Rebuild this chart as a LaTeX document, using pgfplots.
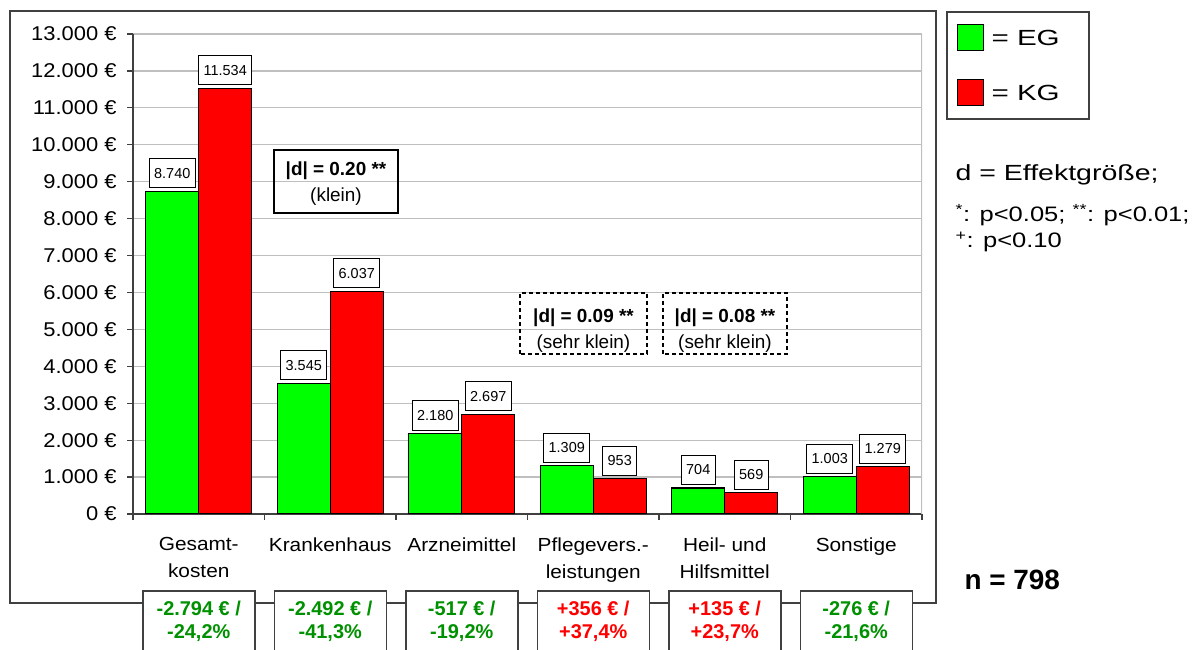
\documentclass[border=0pt]{standalone}
\usepackage{fontspec}
\setmainfont{Liberation Sans}
\usepackage{graphicx}
\usepackage{pgfplots}
\pgfplotsset{compat=1.18}
\definecolor{eg}{RGB}{0,255,0}
\definecolor{kg}{RGB}{255,0,0}
\definecolor{dgreen}{RGB}{0,145,0}
\definecolor{axgray}{RGB}{64,64,64}
\newcommand{\fs}[1]{\fontsize{#1}{#1}\selectfont}
\newcommand{\sx}[1]{\scalebox{1.1}[1]{#1}}
% box under a category: center x, line 1, line 2, colour
\newcommand{\bbox}[4]{%
  \draw[axgray, fill=white, line width=1.5bp] (#1-56,-20) rectangle (#1+56,59);
  \node[text=#4, font=\bfseries\fs{20}] at (#1,42) {#2};
  \node[text=#4, font=\bfseries\fs{20}] at (#1,17) {#3};}

\begin{document}
\begin{tikzpicture}[x=1bp,y=1bp]
\clip (0,0) rectangle (1195,650);
\draw[axgray, line width=1.5bp] (10,47) rectangle (936,639);

\begin{axis}[
    at={(133bp,136bp)}, anchor=south west,
    scale only axis, width=789bp, height=480bp,
    xmin=-0.5, xmax=5.5, ymin=0, ymax=13000,
    ybar=0pt, bar width=53bp,
    axis x line*=bottom, axis y line*=left,
    axis line style={axgray, line width=1.5bp},
    scaled y ticks=false,
    ytick={0,1000,...,13000},
    yticklabels={\sx{0 €},\sx{1.000 €},\sx{2.000 €},\sx{3.000 €},\sx{4.000 €},\sx{5.000 €},\sx{6.000 €},\sx{7.000 €},\sx{8.000 €},\sx{9.000 €},\sx{10.000 €},\sx{11.000 €},\sx{12.000 €},\sx{13.000 €}},
    yticklabel style={font=\fs{20}, anchor=east, xshift=-7bp},
    xtick={-0.5,0.5,1.5,2.5,3.5,4.5,5.5},
    xticklabels={},
    extra x ticks={0,1,2,3,4,5},
    extra x tick labels={\sx{Gesamt-}\\\sx{kosten},\sx{Krankenhaus},\sx{Arzneimittel},\sx{Pflegevers.-}\\\sx{leistungen},\sx{Heil- und}\\\sx{Hilfsmittel},\sx{Sonstige}},
    extra x tick style={major tick length=0pt, grid=none,
        tick label style={align=center, font=\fontsize{19}{27}\selectfont, anchor=north, yshift=-20bp}},
    tick align=outside, major tick length=6bp,
    tick style={axgray, line width=1.2bp},
    ymajorgrids, grid style={gray!50, line width=1.2bp},
    nodes near coords={\pgfmathprintnumber[1000 sep={.},assume math mode=true]{\pgfplotspointmeta}},
    every node near coord/.append style={font=\fs{14.5}, text=black, draw=black, fill=white,
        line width=1bp, inner xsep=5bp, inner ysep=0pt, minimum height=29bp, anchor=south, yshift=3bp},
]
\addplot[fill=eg, draw=black, line width=1bp] coordinates {(0,8740) (1,3545) (2,2180) (3,1309) (4,704) (5,1003)};
\addplot[fill=kg, draw=black, line width=1bp] coordinates {(0,11534) (1,6037) (2,2697) (3,953) (4,569) (5,1279)};
\draw[gray!50, line width=1.2bp] (axis cs:5.5,0) -- (axis cs:5.5,13000);
\end{axis}

% effect sizes
\draw[black, line width=1.5bp] (274,437) rectangle (398,500);
\node[font=\bfseries\fs{19}] at (336,479) {|d| = 0.20 **};
\node[font=\fs{19}] at (336,453) {(klein)};
\draw[black, line width=1.2bp, dash pattern=on 4bp off 3bp] (520,296) rectangle (647,357);
\node[font=\bfseries\fs{19}] at (583.5,332) {|d| = 0.09 **};
\node[font=\fs{19}] at (583.5,306) {(sehr klein)};
\draw[black, line width=1.2bp, dash pattern=on 4bp off 3bp] (663,296) rectangle (787,357);
\node[font=\bfseries\fs{19}] at (725,332) {|d| = 0.08 **};
\node[font=\fs{19}] at (725,306) {(sehr klein)};

% legend
\draw[axgray, line width=1.5bp] (947,531) rectangle (1089,638);
\draw[fill=eg, line width=1bp] (957,599) rectangle (983,625);
\draw[fill=kg, line width=1bp] (957,544) rectangle (983,570);
\node[anchor=west, font=\fs{22}] at (988,612) {\scalebox{1.35}[1]{= EG}};
\node[anchor=west, font=\fs{22}] at (988,557) {\scalebox{1.35}[1]{= KG}};

% notes
\node[anchor=west, font=\fs{22}] at (952,475) {\scalebox{1.3}[1]{d = Effektgröße;}};
\node[anchor=west, font=\fs{21}] at (952,435) {\scalebox{1.22}[1]{\textsuperscript{*}: p<0.05; \textsuperscript{**}: p<0.01;}};
\node[anchor=west, font=\fs{21}] at (952,408) {\scalebox{1.22}[1]{\textsuperscript{+}: p<0.10}};
\node[anchor=west, font=\bfseries\fs{28}] at (961,70) {n = 798};

% differences under the categories
\bbox{198.75}{-2.794 € /}{-24,2\%}{dgreen}
\bbox{330.25}{-2.492 € /}{-41,3\%}{dgreen}
\bbox{461.75}{-517 € /}{-19,2\%}{dgreen}
\bbox{593.25}{+356 € /}{+37,4\%}{kg}
\bbox{724.75}{+135 € /}{+23,7\%}{kg}
\bbox{856.25}{-276 € /}{-21,6\%}{dgreen}
\end{tikzpicture}
\end{document}
